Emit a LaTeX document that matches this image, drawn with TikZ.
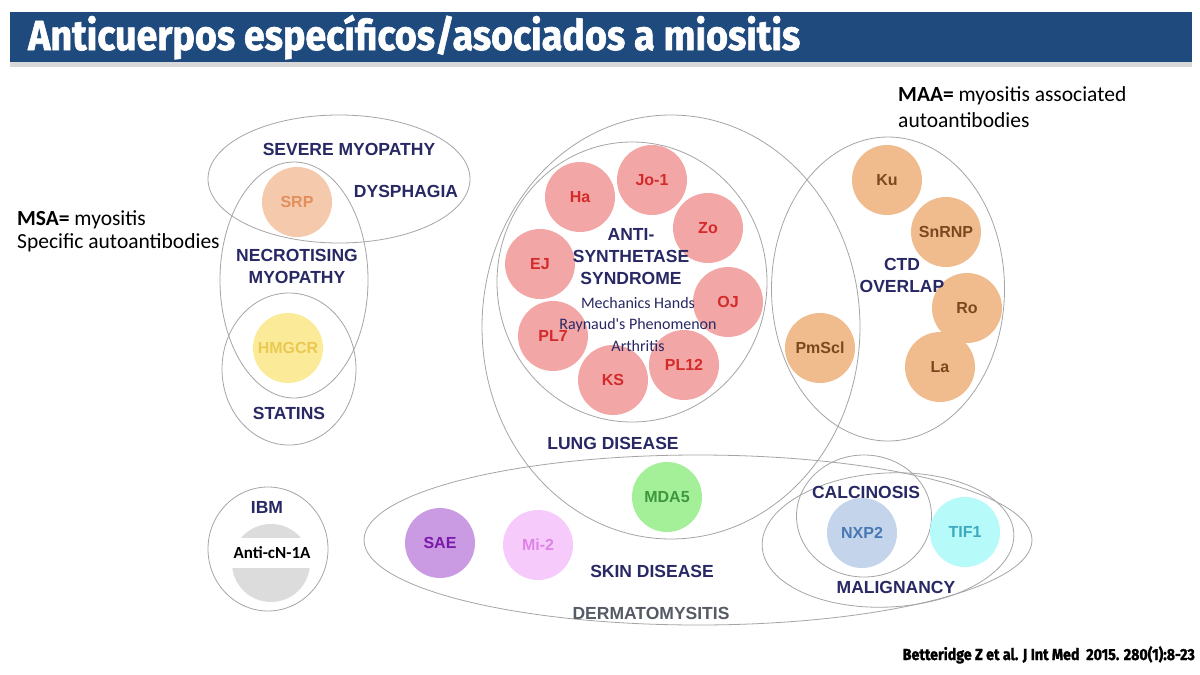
\documentclass[tikz,border=0pt]{standalone}
\usepackage{graphicx}
\usepackage{fontspec}
\setmainfont{Liberation Sans}
\newfontfamily\calfont{Carlito}
\newfontfamily\headfont{Fira Sans}[BoldFeatures={FakeBold=1.6}]
\usetikzlibrary{calc, shapes.geometric, shadows}

\definecolor{banner}{RGB}{31,74,126}
\definecolor{abnavy}{RGB}{40,40,100}
\definecolor{ringgray}{RGB}{165,165,165}
\definecolor{dmgray}{RGB}{85,90,100}
\definecolor{pinkfill}{RGB}{243,166,166}
\definecolor{pinktext}{RGB}{212,42,42}
\definecolor{orangefill}{RGB}{240,188,142}
\definecolor{orangetext}{RGB}{122,72,30}

\tikzset{
    ring/.style={ellipse, draw=ringgray, line width=0.8pt, inner sep=0pt},
    ab/.style={circle, minimum size=70pt, inner sep=0pt, font=\fontsize{16pt}{18pt}\selectfont\bfseries},
    ab_pink/.style={ab, fill=pinkfill, text=pinktext},
    ab_orange/.style={ab, fill=orangefill, text=orangetext},
    grp/.style={text=abnavy, align=center, inner sep=0pt, font=\fontsize{17.5pt}{22pt}\selectfont\bfseries},
    note/.style={align=left, inner sep=0pt, font=\calfont\fontsize{21.5pt}{23pt}\selectfont},
}

\begin{document}
\begin{tikzpicture}[x=1pt, y=-1pt]
    \useasboundingbox[fill=white] (0, 0) rectangle (1200, 675);

    % title bar
    \node[fill=banner, minimum width=1182pt, minimum height=50pt, inner sep=0pt,
        drop shadow={opacity=0.3, shadow xshift=0pt, shadow yshift=-5pt}] (banner) at (601, 37) {};
    \node[anchor=base west, text=white, inner sep=0pt] (title) at (28, 50)
        {\resizebox{772pt}{\height}{\headfont\bfseries\fontsize{42pt}{44pt}\selectfont Anticuerpos específicos/asociados a miositis}};

    \node[note, anchor=base west] (msa_note) at (17, 248) {\textbf{MSA=} myositis\\Specific autoantibodies};
    \node[note, anchor=base west, font=\calfont\fontsize{21.5pt}{26pt}\selectfont] (maa_note) at (898, 127) {\textbf{MAA=} myositis associated\\autoantibodies};

    % outlines
    \node[ring, minimum width=262pt, minimum height=128pt] (severe_myopathy) at (339, 179) {};
    \node[ring, minimum width=148pt, minimum height=236pt] (necrotising) at (294, 280) {};
    \node[ring, minimum width=134pt, minimum height=152pt] (statins) at (289, 369) {};
    \node[ring, minimum width=120pt, minimum height=124pt] (ibm) at (268, 549) {};
    \node[ring, minimum width=378pt, minimum height=424pt] (lung) at (671, 327) {};
    \node[ring, minimum width=270pt, minimum height=280pt] (anti_synthetase) at (632, 282) {};
    \node[ring, minimum width=233pt, minimum height=304pt] (ctd_overlap) at (888, 289) {};
    \node[ring, minimum width=668pt, minimum height=170pt] (dermatomyositis) at (698, 540) {};
    \node[ring, minimum width=252pt, minimum height=134pt, rotate=3] (malignancy) at (888, 540) {};
    \node[ring, minimum width=135pt, minimum height=122pt] (calcinosis) at (864, 516) {};

    % antibodies
    \node[ab, fill={rgb,255:red,245;green,202;blue,172}, text={rgb,255:red,228;green,142;blue,92}] (srp) at (297, 202) {SRP};
    \node[ab, fill={rgb,255:red,251;green,235;blue,152}, text={rgb,255:red,234;green,200;blue,82}] (hmgcr) at (288, 348) {HMGCR};

    \node[ab_pink] (ha) at (580, 197) {Ha};
    \node[ab_pink] (jo_one) at (652, 180) {Jo-1};
    \node[ab_pink] (zo) at (708, 228) {Zo};
    \node[ab_pink] (ej) at (540, 264) {EJ};
    \node[ab_pink] (oj) at (728, 302) {OJ};
    \node[ab_pink] (pl_seven) at (553, 336) {PL7};
    \node[ab_pink] (ks) at (613, 380) {KS};
    \node[ab_pink] (pl_twelve) at (684, 365) {PL12};

    \node[ab_orange] (ku) at (887, 180) {Ku};
    \node[ab_orange] (snrnp) at (946, 232) {SnRNP};
    \node[ab_orange] (ro) at (967, 308) {Ro};
    \node[ab_orange] (la) at (940, 367) {La};
    \node[ab_orange] (pm_scl) at (820, 348) {PmScl};

    \node[ab, fill={rgb,255:red,202;green,154;blue,226}, text={rgb,255:red,122;green,24;blue,170}] (sae) at (440, 543) {SAE};
    \node[ab, fill={rgb,255:red,246;green,202;blue,250}, text={rgb,255:red,222;green,132;blue,230}] (mi_two) at (538, 545) {Mi-2};
    \node[ab, fill={rgb,255:red,164;green,240;blue,152}, text={rgb,255:red,62;green,150;blue,62}] (mda_five) at (667, 497) {MDA5};
    \node[ab, fill={rgb,255:red,196;green,212;blue,234}, text={rgb,255:red,72;green,120;blue,180}] (nxp_two) at (862, 533) {NXP2};
    \node[ab, fill={rgb,255:red,182;green,250;blue,250}, text={rgb,255:red,60;green,170;blue,190}] (tif_one) at (965, 532) {TIF1};

    \node[circle, fill={rgb,255:red,220;green,220;blue,220}, minimum size=78pt, inner sep=0pt] (ibm_disk) at (271, 563) {};
    \node[fill=white, minimum width=86pt, minimum height=30pt, inner sep=0pt,
        font=\calfont\fontsize{17pt}{19pt}\selectfont\bfseries] (cn_one_a) at (272, 553) {Anti-cN-1A};

    % group labels
    \node[grp] (lbl_severe) at (349, 149) {SEVERE MYOPATHY};
    \node[grp] (lbl_dysphagia) at (406, 191) {DYSPHAGIA};
    \node[grp] (lbl_necrotising) at (297, 266) {NECROTISING\\MYOPATHY};
    \node[grp] (lbl_statins) at (289, 413) {STATINS};
    \node[grp] (lbl_ibm) at (267, 507) {IBM};
    \node[grp] (lbl_anti_synthetase) at (631, 257) {ANTI-\\SYNTHETASE\\SYNDROME};
    \node[align=center, inner sep=0pt, text=abnavy, font=\calfont\fontsize{16pt}{21.5pt}\selectfont] (lbl_features) at (638, 324)
        {Mechanics Hands\\Raynaud's Phenomenon\\Arthritis};
    \node[grp] (lbl_lung) at (613, 443) {LUNG DISEASE};
    \node[grp] (lbl_ctd) at (902, 275) {CTD\\OVERLAP};
    \node[grp] (lbl_skin) at (652, 571) {SKIN DISEASE};
    \node[grp, text=dmgray] (lbl_dm) at (651, 613) {DERMATOMYSITIS};
    \node[grp] (lbl_calcinosis) at (866, 492) {CALCINOSIS};
    \node[grp] (lbl_malignancy) at (896, 587) {MALIGNANCY};

    \node[anchor=base east, inner sep=0pt] (source) at (1195, 660)
        {\resizebox{292pt}{\height}{\headfont\bfseries\fontsize{16pt}{18pt}\selectfont Betteridge Z et al. J Int Med\ \ 2015. 280(1):8-23}};
\end{tikzpicture}
\end{document}
